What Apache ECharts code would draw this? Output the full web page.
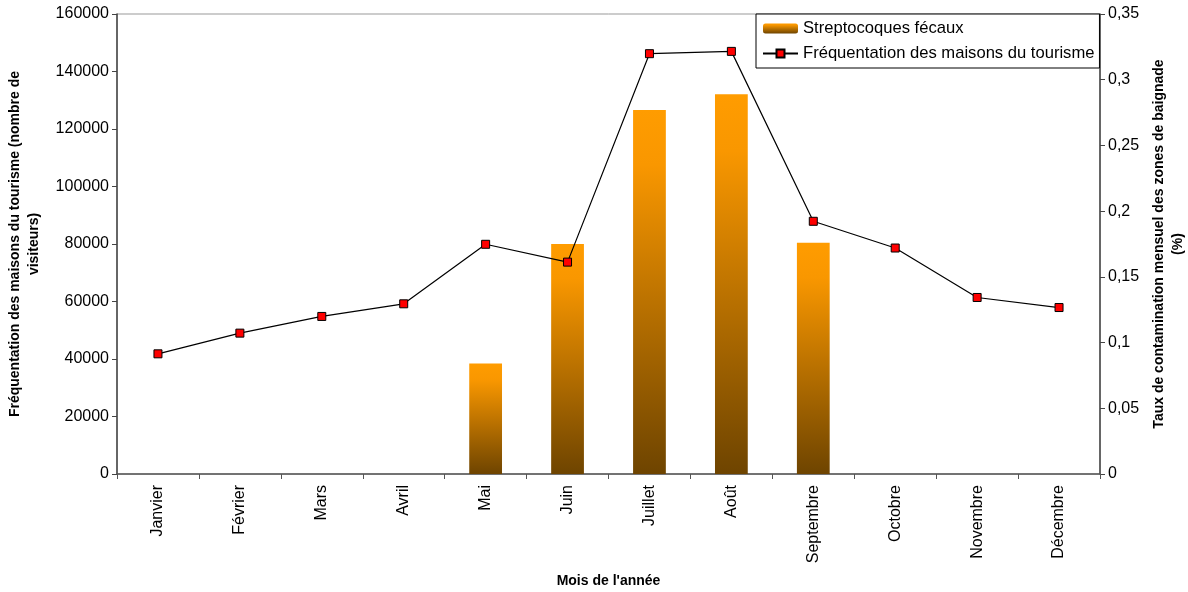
<!DOCTYPE html>
<html>
<head>
<meta charset="utf-8">
<script src="https://cdn.jsdelivr.net/npm/echarts@6/dist/echarts.min.js"></script>
<style>
  html, body { margin: 0; padding: 0; background: #fff; }
  #chart { width: 1188px; height: 592px; }
</style>
</head>
<body>
<div id="chart"></div>
<script>
// mois de l'année
var mois = ['Janvier', 'Février', 'Mars', 'Avril', 'Mai', 'Juin', 'Juillet', 'Août', 'Septembre', 'Octobre', 'Novembre', 'Décembre'];
// fréquentation des maisons du tourisme (visiteurs)
var frequentation = [41800, 49000, 54800, 59200, 79900, 73700, 146200, 147000, 87900, 78600, 61400, 57900];
// taux de contamination (%) - streptocoques fécaux
var streptocoques = [null, null, null, null, 0.084, 0.175, 0.277, 0.289, 0.176, null, null, null];

var police = 'Liberation Sans, Arial, sans-serif';

var chart = echarts.init(document.getElementById('chart'));

var degrade = new echarts.graphic.LinearGradient(0, 0, 0, 1, [
  { offset: 0, color: '#FF9C00' },
  { offset: 0.15, color: '#F99700' },
  { offset: 1, color: '#6E4400' }
]);

var option = {
  animation: false,
  textStyle: { fontFamily: police },
  grid: {
    left: 117, right: 88, top: 14, bottom: 118,
    outerBoundsMode: 'none',
    containLabel: false,
    show: true, borderColor: '#999', borderWidth: 1
  },
  legend: {
    orient: 'vertical',
    left: 756, top: 14,
    padding: [6, 5, 6, 6],
    itemGap: 8,
    itemWidth: 35, itemHeight: 10,
    borderColor: '#000', borderWidth: 1,
    backgroundColor: '#fff',
    textStyle: { fontSize: 16.6, color: '#000', fontFamily: police },
    data: ['Streptocoques fécaux', 'Fréquentation des maisons du tourisme']
  },
  xAxis: {
    type: 'category',
    data: mois,
    name: "Mois de l'année",
    nameLocation: 'middle',
    nameGap: 100,
    nameTextStyle: { fontWeight: 'bold', fontSize: 14, color: '#000' },
    axisLine: { lineStyle: { color: '#555', width: 1.5 } },
    axisTick: { show: true, length: 5, lineStyle: { color: '#555' } },
    axisLabel: { rotate: 90, fontSize: 16, color: '#000', margin: 11 }
  },
  yAxis: [{
    type: 'value',
    min: 0, max: 160000, interval: 20000,
    name: 'Fréquentation des maisons du tourisme (nombre de\nvisiteurs)',
    nameLocation: 'middle',
    nameGap: 73,
    nameTextStyle: { fontWeight: 'bold', fontSize: 14, color: '#000', lineHeight: 19 },
    axisLine: { show: true, lineStyle: { color: '#444', width: 1.5 } },
    axisTick: { show: true, length: 5, lineStyle: { color: '#444' } },
    axisLabel: {
      fontSize: 16, color: '#000', margin: 8,
      formatter: function (v) { return String(v); }
    },
    splitLine: { show: false }
  }, {
    type: 'value',
    position: 'right',
    min: 0, max: 0.35, interval: 0.05,
    name: 'Taux de contamination mensuel des zones de baignade\n(%)',
    nameLocation: 'middle',
    nameGap: 49,
    nameRotate: 90,
    nameTextStyle: { fontWeight: 'bold', fontSize: 14, color: '#000', lineHeight: 19 },
    axisLine: { show: true, lineStyle: { color: '#444', width: 1.5 } },
    axisTick: { show: true, length: 5, lineStyle: { color: '#444' } },
    axisLabel: {
      fontSize: 16, color: '#000', margin: 8,
      formatter: function (v) { return String(+v.toFixed(2)).replace('.', ','); }
    },
    splitLine: { show: false }
  }],
  series: [{
    name: 'Streptocoques fécaux',
    type: 'bar',
    yAxisIndex: 1,
    barWidth: '40%',
    itemStyle: { color: degrade },
    data: streptocoques
  }, {
    name: 'Fréquentation des maisons du tourisme',
    type: 'line',
    yAxisIndex: 0,
    symbol: 'rect',
    symbolSize: 8,
    lineStyle: { color: '#000', width: 1.2 },
    itemStyle: { color: '#FF0000', borderColor: '#000', borderWidth: 1 },
    data: frequentation
  }]
};

chart.setOption(option);
</script>
</body>
</html>
